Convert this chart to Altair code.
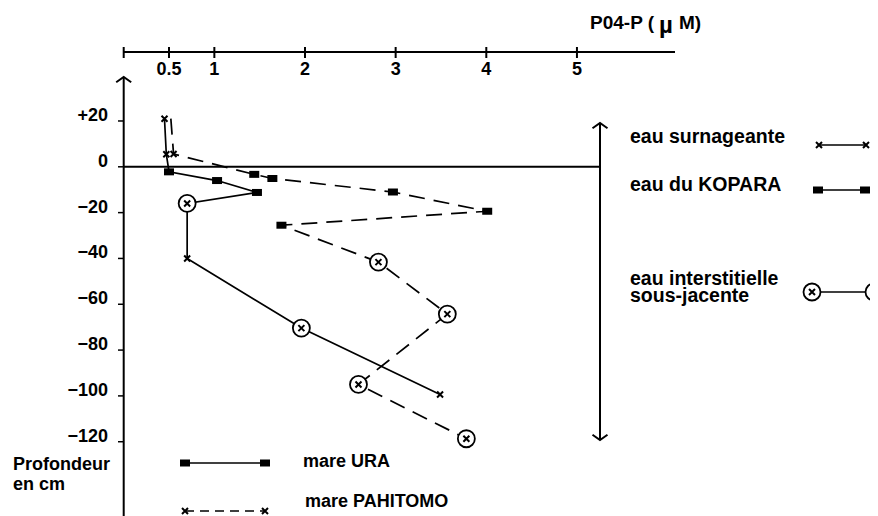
import altair as alt
import pandas as pd

# ---------------- data ----------------
URA_X = [0.45, 0.47, 0.50, 1.03, 1.47, 0.70, 0.70, 1.96, 3.49]
URA_Y = [21, 5.5, -2.2, -6, -11.2, -16, -40, -70.4, -99.4]
URA_M = ["x", "x", "sq", "sq", "sq", "circ", "x", "circ", "x"]

PAH_X = [0.52, 0.55, 1.44, 1.64, 2.97, 4.01, 1.74, 2.81, 3.57, 2.59, 3.78]
PAH_Y = [21, 5.6, -3.3, -5.1, -11, -19.4, -25.5, -41.6, -64.3, -95, -118.7]
PAH_M = ["none", "x", "sq", "sq", "sq", "sq", "sq", "circ", "circ", "circ", "circ"]

X_TICKS = [0, 0.5, 1, 2, 3, 4, 5]
X_TICK_LABELS = ["", "0.5", "1", "2", "3", "4", "5"]
Y_TICKS = [20, 0, -20, -40, -60, -80, -100, -120]
Y_TICK_LABELS = ["+20", "0", "\u221220", "\u221240", "\u221260", "\u221280", "\u2212100", "\u2212120"]

# ---------------- layout ----------------
W, H = 862, 508
X_ORIGIN_PX = 115.7
X_PX_PER_UNIT = 90.65
Y_ORIGIN_PX = 158.8
Y_PX_PER_UNIT = 2.291

x_dom = [-X_ORIGIN_PX / X_PX_PER_UNIT, (W - X_ORIGIN_PX) / X_PX_PER_UNIT]
y_dom = [(Y_ORIGIN_PX - H) / Y_PX_PER_UNIT, Y_ORIGIN_PX / Y_PX_PER_UNIT]
XS = alt.Scale(domain=x_dom, nice=False, zero=False)
YS = alt.Scale(domain=y_dom, nice=False, zero=False)

FONT = "Liberation Sans"
X_SHAPE = "M-1,-1L1,1M-1,1L1,-1"
SQ_SHAPE = "M-1,-0.7L1,-0.7L1,0.7L-1,0.7Z"
UP_SHAPE = "M-1,0.7L0,0L1,0.7"
DOWN_SHAPE = "M-1,-0.7L0,0L1,-0.7"


def X(field):
    return alt.X(field, type="quantitative", scale=XS, axis=None)


def Y(field):
    return alt.Y(field, type="quantitative", scale=YS, axis=None)


XD0 = alt.X(datum=0, scale=XS, axis=None)
YD0 = alt.Y(datum=0, scale=YS, axis=None)

one = pd.DataFrame({"a": [0]})

df = pd.DataFrame({
    "x": URA_X + PAH_X,
    "y": URA_Y + PAH_Y,
    "serie": ["URA"] * len(URA_X) + ["PAHITOMO"] * len(PAH_X),
    "i": list(range(len(URA_X))) + list(range(len(PAH_X))),
    "m": URA_M + PAH_M,
})
base = alt.Chart(df)

layers = []

# axes
xt = pd.DataFrame({"v": X_TICKS, "lab": X_TICK_LABELS})
yt = pd.DataFrame({"v": Y_TICKS, "lab": Y_TICK_LABELS})

layers.append(alt.Chart(one).mark_rule(color="black", strokeWidth=2).encode(
    x=XD0, x2=alt.value(667), y=alt.value(44)))
layers.append(alt.Chart(xt).mark_rule(color="black", strokeWidth=2).encode(
    x=X("v"), y=alt.value(39), y2=alt.value(50)))
layers.append(alt.Chart(xt).mark_text(font=FONT, fontSize=18, fontWeight="bold",
                                      align="center", baseline="alphabetic").encode(
    x=X("v"), y=alt.value(67), text="lab:N"))

layers.append(alt.Chart(one).mark_rule(color="black", strokeWidth=2).encode(
    x=XD0, y=alt.value(69), y2=alt.value(H)))
layers.append(alt.Chart(yt).mark_rule(color="black", strokeWidth=1.5).encode(
    x=XD0, x2=alt.value(110), y=Y("v")))
layers.append(alt.Chart(yt).mark_text(font=FONT, fontSize=18, fontWeight="bold",
                                      align="right", baseline="alphabetic").encode(
    x=alt.value(100), y=Y("v"), text="lab:N"))
layers.append(alt.Chart(one).mark_point(shape=UP_SHAPE, filled=False, color="black",
                                        strokeWidth=2, size=225, opacity=1).encode(
    x=XD0, y=alt.value(69)))

# zero line and right double arrow
layers.append(alt.Chart(one).mark_rule(color="black", strokeWidth=2).encode(
    x=XD0, x2=alt.value(592), y=YD0))
layers.append(alt.Chart(one).mark_rule(color="black", strokeWidth=2).encode(
    x=alt.value(592), y=alt.value(115), y2=alt.value(432)))
layers.append(alt.Chart(one).mark_point(shape=UP_SHAPE, filled=False, color="black",
                                        strokeWidth=2, size=225, opacity=1).encode(
    x=alt.value(592), y=alt.value(115)))
layers.append(alt.Chart(one).mark_point(shape=DOWN_SHAPE, filled=False, color="black",
                                        strokeWidth=2, size=225, opacity=1).encode(
    x=alt.value(592), y=alt.value(432)))

# data lines
layers.append(base.transform_filter("datum.serie == 'URA'").mark_line(
    color="black", strokeWidth=1.7).encode(x=X("x"), y=Y("y"), order="i:Q"))
layers.append(base.transform_filter("datum.serie == 'PAHITOMO'").mark_line(
    color="black", strokeWidth=1.7, strokeDash=[16, 9]).encode(x=X("x"), y=Y("y"), order="i:Q"))

# markers
layers.append(base.transform_filter("datum.m == 'circ'").mark_point(
    shape="circle", filled=True, fill="white", stroke="black", strokeWidth=1.8,
    size=289, opacity=1).encode(x=X("x"), y=Y("y")))
layers.append(base.transform_filter("datum.m == 'sq'").mark_point(
    shape=SQ_SHAPE, filled=True, color="black", size=100, opacity=1).encode(x=X("x"), y=Y("y")))
layers.append(base.transform_filter("datum.m == 'x' || datum.m == 'circ'").mark_point(
    shape=X_SHAPE, filled=False, color="black", strokeWidth=2, size=36, opacity=1).encode(
    x=X("x"), y=Y("y")))


# legend helpers
def rule(x1, x2, y, dash=None):
    kw = {"color": "black", "strokeWidth": 1.6}
    if dash:
        kw["strokeDash"] = dash
    return alt.Chart(one).mark_rule(**kw).encode(x=alt.value(x1), x2=alt.value(x2), y=alt.value(y))


def sym(kind, x, y):
    out = []
    if kind == "sq":
        out.append(alt.Chart(one).mark_point(shape=SQ_SHAPE, filled=True, color="black",
                                             size=100, opacity=1).encode(x=alt.value(x), y=alt.value(y)))
    if kind == "circ":
        out.append(alt.Chart(one).mark_point(shape="circle", filled=True, fill="white", stroke="black",
                                             strokeWidth=1.8, size=289, opacity=1).encode(
            x=alt.value(x), y=alt.value(y)))
    if kind in ("x", "circ"):
        out.append(alt.Chart(one).mark_point(shape=X_SHAPE, filled=False, color="black",
                                             strokeWidth=2, size=36, opacity=1).encode(
            x=alt.value(x), y=alt.value(y)))
    return out


def txt(s, x, y, size=18, line_height=None):
    kw = {}
    if line_height:
        kw["lineHeight"] = line_height
    return alt.Chart(one).mark_text(text=s, font=FONT, fontSize=size, fontWeight="bold",
                                    align="left", baseline="alphabetic", **kw).encode(
        x=alt.value(x), y=alt.value(y))


# right legend
layers.append(rule(811, 859, 137))
layers += sym("x", 811, 137) + sym("x", 858, 137)
layers.append(rule(810, 859, 182))
layers += sym("sq", 810, 182) + sym("sq", 857, 182)
layers.append(rule(804, 866, 284))
layers += sym("circ", 804, 284) + sym("circ", 866, 284)
layers.append(txt("eau surnageante", 622, 134.7, 19.5))
layers.append(txt("eau du KOPARA", 622, 182.5, 19.5))
layers.append(txt(["eau interstitielle", "sous-jacente"], 622, 277, 19.5, 16.5))

# bottom legend
layers.append(rule(177, 257, 455))
layers += sym("sq", 177, 455) + sym("sq", 257, 455)
layers.append(rule(177, 257, 503, dash=[9, 6]))
layers += sym("x", 177, 503) + sym("x", 257, 503)
layers.append(txt("mare URA", 295, 458.7))
layers.append(txt("mare PAHITOMO", 297, 498.7))

# left and top labels
layers.append(txt(["Profondeur", "en cm"], 5, 462, 18, 20))
layers.append(txt("P04-P (", 582, 21, 19))
layers.append(txt("\u00b5", 651, 25, 24))
layers.append(txt("M)", 671, 21, 19))

chart = alt.layer(*layers).properties(
    width=W, height=H, padding=0, autosize="none"
).configure_view(stroke=None)

chart.save("out.html", embed_options={"renderer": "svg", "actions": False})
